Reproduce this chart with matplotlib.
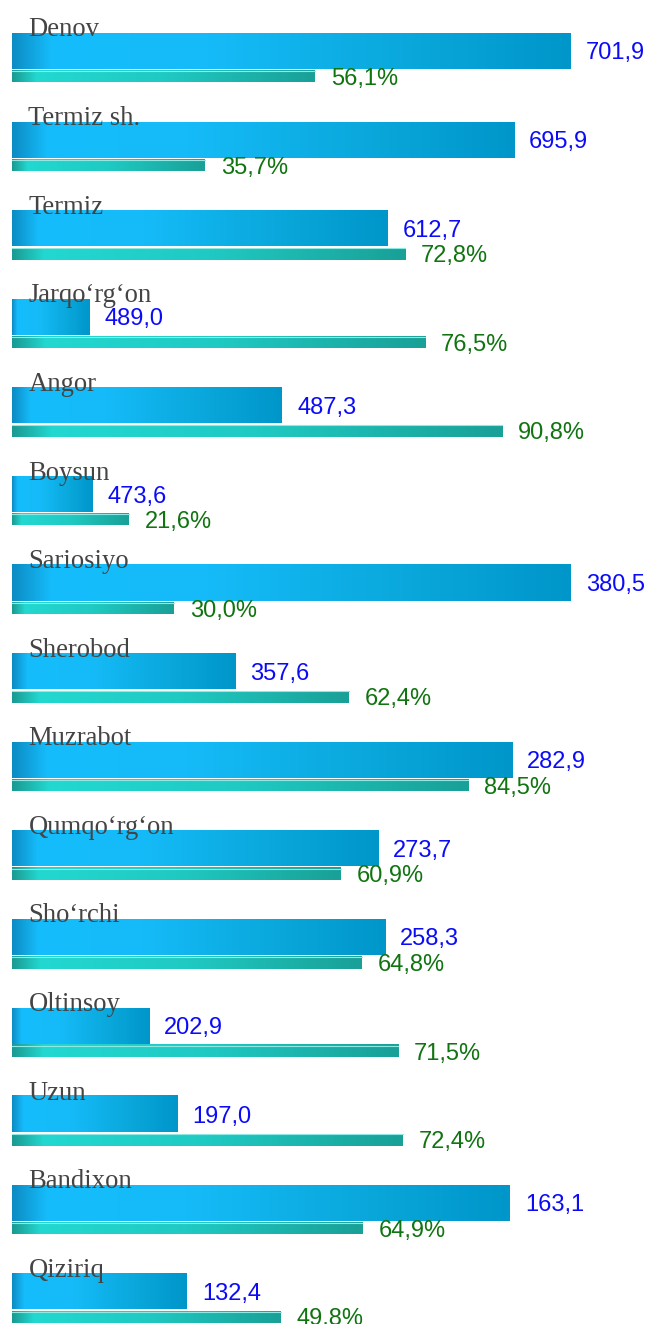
import numpy as np
import matplotlib
matplotlib.use("Agg")
import matplotlib.pyplot as plt
from matplotlib.colors import LinearSegmentedColormap

# ---- data ----
districts = ["Denov", "Termiz sh.", "Termiz", "Jarqo\u2018rg\u2018on", "Angor", "Boysun",
             "Sariosiyo", "Sherobod", "Muzrabot", "Qumqo\u2018rg\u2018on", "Sho\u2018rchi",
             "Oltinsoy", "Uzun", "Bandixon", "Qiziriq"]
blue_labels = ["701,9", "695,9", "612,7", "489,0", "487,3", "473,6", "380,5", "357,6",
               "282,9", "273,7", "258,3", "202,9", "197,0", "163,1", "132,4"]
blue_bar_len = [103.5, 93.0, 69.6, 14.4, 50.0, 15.0, 103.5, 41.3, 92.6, 67.8, 69.1,
                25.4, 30.6, 92.2, 32.4]
pct_values = [56.1, 35.7, 72.8, 76.5, 90.8, 21.6, 30.0, 62.4, 84.5, 60.9, 64.8,
              71.5, 72.4, 64.9, 49.8]

W, H, DPI = 648, 1324, 100
PX_PER_UNIT = 5.4
X0 = 12
STEP = 88.6
TOP0 = 33

fig = plt.figure(figsize=(W / DPI, H / DPI), dpi=DPI)
ax = fig.add_axes([0, 0, 1, 1])
ax.set_xlim(-X0 / PX_PER_UNIT, (W - X0) / PX_PER_UNIT)
ax.set_ylim((H - TOP0) / STEP, -TOP0 / STEP)
ax.axis("off")

blue_cmap = LinearSegmentedColormap.from_list(
    "blue", [(0.0, "#0c8cc4"), (0.07, "#16bdfc"), (0.35, "#15bbf8"), (0.7, "#0aa8dc"), (1.0, "#0096ca")])
green_cmap = LinearSegmentedColormap.from_list(
    "green", [(0.0, "#1a9a92"), (0.08, "#22d8d0"), (0.5, "#1fcac3"), (1.0, "#19a097")])

grad = np.linspace(0, 1, 256).reshape(1, -1)

blue_h = 36 / STEP
gap = 1.5 / STEP
green_h = 12 / STEP

for i, name in enumerate(districts):
    y_top = i
    bl = blue_bar_len[i]
    ax.imshow(grad, cmap=blue_cmap, aspect="auto",
              extent=(0, bl, y_top + blue_h, y_top), zorder=2, interpolation="bilinear")
    gy = y_top + blue_h + gap
    gl = pct_values[i]
    ax.imshow(grad, cmap=green_cmap, aspect="auto",
              extent=(0, gl, gy + green_h, gy), zorder=2, interpolation="bilinear")
    ax.plot([0, gl], [gy + 0.6 / STEP, gy + 0.6 / STEP], color="#8ee8e4", lw=0.8, zorder=3)

    ax.text(16.5 / PX_PER_UNIT, y_top + 3.5 / STEP, name, fontsize=19.2,
            family="Liberation Serif", color="#444444", va="baseline", ha="left", zorder=5)
    ax.annotate(blue_labels[i], (bl, y_top + blue_h / 2), xytext=(15 * 0.72, 0),
                textcoords="offset points", fontsize=17, family="Liberation Sans",
                color="#0b0bf8", va="center_baseline", ha="left", zorder=5)
    ax.annotate(f"{pct_values[i]:.1f}%".replace(".", ","), (gl, gy + green_h / 2),
                xytext=(16 * 0.72, 0), textcoords="offset points", fontsize=17,
                family="Liberation Sans", color="#107410", va="center_baseline",
                ha="left", zorder=5)

fig.savefig("out.png", dpi=DPI)
